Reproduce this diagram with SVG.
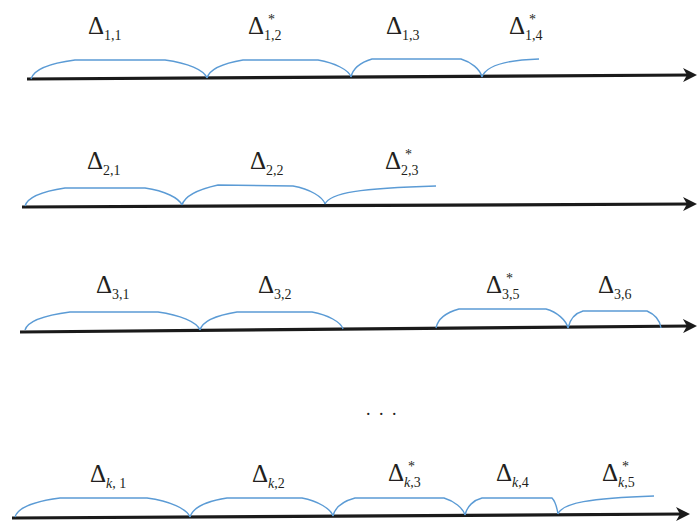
<svg xmlns="http://www.w3.org/2000/svg" width="698" height="522" viewBox="0 0 698 522">
<style>
.axis{stroke:#1a1a1a;stroke-width:3.2;fill:none}
.br{stroke:#5b9bd5;stroke-width:1.4;fill:none}
.d{font-family:"Liberation Serif","Times New Roman",serif;font-size:25px;fill:#231f20}
.s{font-size:14px}
.st{font-family:"Liberation Serif","Times New Roman",serif;font-size:14px;fill:#231f20}
.i{font-style:italic}
.dots{font-family:"Liberation Serif","Times New Roman",serif;font-size:18px;letter-spacing:8.5px;fill:#231f20}
</style>
<defs>
<marker id="ah" markerUnits="userSpaceOnUse" markerWidth="16" markerHeight="14" refX="8" refY="7" orient="auto">
<path d="M0,0 L14,7 L0,14 L4,7 z" fill="#1a1a1a"/>
</marker>
</defs>
<g id="connectors">
<line class="axis" x1="27" y1="79" x2="691" y2="75" marker-end="url(#ah)"/>
<line class="axis" x1="22" y1="207" x2="691" y2="204" marker-end="url(#ah)"/>
<line class="axis" x1="20" y1="332" x2="691" y2="326" marker-end="url(#ah)"/>
<line class="axis" x1="12" y1="518" x2="684" y2="514" marker-end="url(#ah)"/>
</g>
<g id="row1">
<path class="br" d="M31,79 C34,68 52,63 75,60 L165,60 C188,63 204,70 207,78"/>
<path class="br" d="M207,78 C210,68 225,63 243,60 L318,60 C335,63 349,70 351,77"/>
<path class="br" d="M351,77 C353,68 362,62 372,59 L461,59 C471,62 480,69 482,77"/>
<path class="br" d="M482,77 C486,66 505,60 539,59"/>
<text class="d" x="88" y="34">Δ<tspan class="s" dy="6">1,1</tspan></text>
<text class="d" x="248" y="34">Δ<tspan class="s" dy="6">1,2</tspan></text>
<text class="st" x="268" y="24">*</text>
<text class="d" x="386" y="34">Δ<tspan class="s" dy="6">1,3</tspan></text>
<text class="d" x="509" y="34">Δ<tspan class="s" dy="6">1,4</tspan></text>
<text class="st" x="529" y="24">*</text>
</g>
<g id="row2">
<path class="br" d="M25,206 C28,196 45,191 65,188 L145,188 C165,191 179,198 182,205"/>
<path class="br" d="M182,205 C185,195 200,189 218,185 L293,186 C310,189 323,197 325,204"/>
<path class="br" d="M325,204 C330,193 360,188 436,186"/>
<text class="d" x="87" y="169">Δ<tspan class="s" dy="6">2,1</tspan></text>
<text class="d" x="250" y="169">Δ<tspan class="s" dy="6">2,2</tspan></text>
<text class="d" x="385" y="169">Δ<tspan class="s" dy="6">2,3</tspan></text>
<text class="st" x="405" y="159">*</text>
</g>
<g id="row3">
<path class="br" d="M25,330 C28,320 47,315 70,312 L158,312 C180,315 197,322 200,330"/>
<path class="br" d="M200,330 C203,320 218,315 237,312 L312,312 C328,315 341,322 343,329"/>
<path class="br" d="M436,328 C438,318 448,312 459,309 L546,309 C557,312 566,320 568,328"/>
<path class="br" d="M568,328 C570,319 576,313 583,311 L647,311 C654,314 660,320 661,328"/>
<text class="d" x="96" y="293">Δ<tspan class="s" dy="6">3,1</tspan></text>
<text class="d" x="258" y="293">Δ<tspan class="s" dy="6">3,2</tspan></text>
<text class="d" x="486" y="293">Δ<tspan class="s" dy="6">3,5</tspan></text>
<text class="st" x="506" y="283">*</text>
<text class="d" x="598" y="293">Δ<tspan class="s" dy="6">3,6</tspan></text>
</g>
<g id="ellipsis">
<text class="dots" x="366" y="415">...</text>
</g>
<g id="row4">
<path class="br" d="M15,517 C18,507 37,501 60,498 L147,498 C170,501 187,509 190,517"/>
<path class="br" d="M190,517 C193,507 208,501 227,498 L302,498 C318,501 331,509 333,516"/>
<path class="br" d="M333,516 C335,507 344,501 355,498 L444,498 C454,501 463,508 465,515"/>
<path class="br" d="M465,515 C467,506 474,500 482,498 L552,498 C556,502 557,508 558,514"/>
<path class="br" d="M558,514 C562,503 590,498 654,496"/>
<text class="d" x="90" y="482">Δ<tspan class="s i" dy="6">k</tspan><tspan class="s">, 1</tspan></text>
<text class="d" x="252" y="482">Δ<tspan class="s i" dy="6">k</tspan><tspan class="s">,2</tspan></text>
<text class="d" x="388" y="481">Δ<tspan class="s i" dy="6">k</tspan><tspan class="s">,3</tspan></text>
<text class="st" x="408" y="471">*</text>
<text class="d" x="496" y="481">Δ<tspan class="s i" dy="6">k</tspan><tspan class="s">,4</tspan></text>
<text class="d" x="602" y="481">Δ<tspan class="s i" dy="6">k</tspan><tspan class="s">,5</tspan></text>
<text class="st" x="622" y="471">*</text>
</g>
</svg>
